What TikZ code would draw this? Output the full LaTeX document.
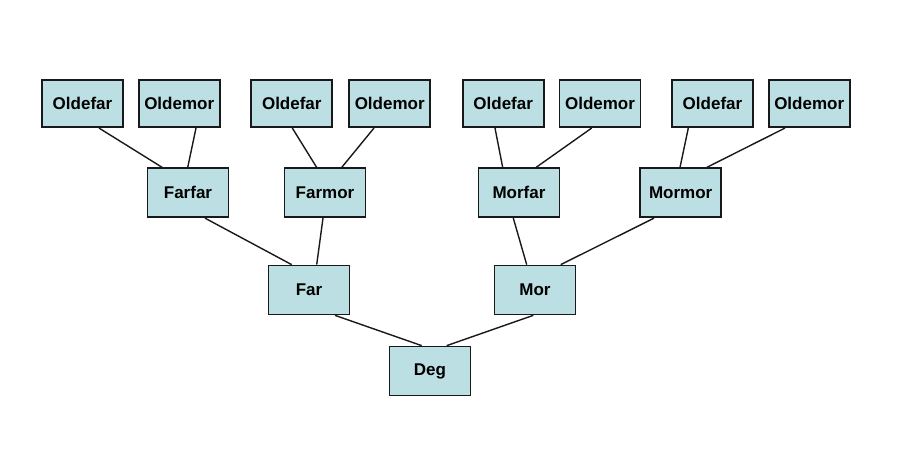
\documentclass[tikz,border=0pt]{standalone}
\usepackage{fontspec}
\setmainfont{Liberation Sans}
\definecolor{boxfill}{RGB}{188,223,227}
\definecolor{boxline}{RGB}{25,25,25}
\begin{document}
\begin{tikzpicture}[x=1pt,y=-1pt,
  person/.style={draw=boxline,line width=1.7pt,fill=boxfill,minimum width=81pt,minimum height=47pt,inner sep=0pt,
    font=\fontsize{17}{19}\selectfont\bfseries},
  link/.style={draw=boxline,line width=1.4pt}]
\useasboundingbox (0,0) rectangle (898,449);
\node[person] (o1) at (82.5,103.7) {Oldefar};
\node[person] (m1) at (179.2,103.7) {Oldemor};
\node[person] (o2) at (291.8,103.7) {Oldefar};
\node[person] (m2) at (389.7,103.7) {Oldemor};
\node[person] (o3) at (503.2,103.7) {Oldefar};
\node[person] (m3) at (600,103.7) {Oldemor};
\node[person] (o4) at (712.5,103.7) {Oldefar};
\node[person] (m4) at (809.2,103.7) {Oldemor};
\node[person,minimum height=49pt] (ff) at (188,192.8) {Farfar};
\node[person,minimum height=49pt] (fm) at (325,192.8) {Farmor};
\node[person,minimum height=49pt] (mf) at (519,192.8) {Morfar};
\node[person,minimum height=49pt] (mm) at (680.7,192.8) {Mormor};
\node[person,minimum height=49pt] (far) at (309,290) {Far};
\node[person,minimum height=49pt] (mor) at (535,290) {Mor};
\node[person,minimum height=49pt] (deg) at (430,371) {Deg};
\draw[link] ([xshift=16.5pt]o1.south) -- ([xshift=-25.7pt]ff.north);
\draw[link] ([xshift=16.8pt]m1.south) -- ([xshift=-0.3pt]ff.north);
\draw[link] ([xshift=0.5pt]o2.south) -- ([xshift=-8.3pt]fm.north);
\draw[link] ([xshift=-15.7pt]m2.south) -- ([xshift=16.7pt]fm.north);
\draw[link] ([xshift=-8.2pt]o3.south) -- ([xshift=-16.3pt]mf.north);
\draw[link] ([xshift=-8.3pt]m3.south) -- ([xshift=17pt]mf.north);
\draw[link] ([xshift=-24.2pt]o4.south) -- ([xshift=-0.7pt]mm.north);
\draw[link] ([xshift=-24.2pt]m4.south) -- ([xshift=26pt]mm.north);
\draw[link] ([xshift=17pt]ff.south) -- ([xshift=-17.3pt]far.north);
\draw[link] ([xshift=-2pt]fm.south) -- ([xshift=7.7pt]far.north);
\draw[link] ([xshift=-5.7pt]mf.south) -- ([xshift=-8.3pt]mor.north);
\draw[link] ([xshift=-26.7pt]mm.south) -- ([xshift=25.7pt]mor.north);
\draw[link] ([xshift=26pt]far.south) -- ([xshift=-8.3pt]deg.north);
\draw[link] ([xshift=-1.7pt]mor.south) -- ([xshift=16.7pt]deg.north);
\end{tikzpicture}
\end{document}
